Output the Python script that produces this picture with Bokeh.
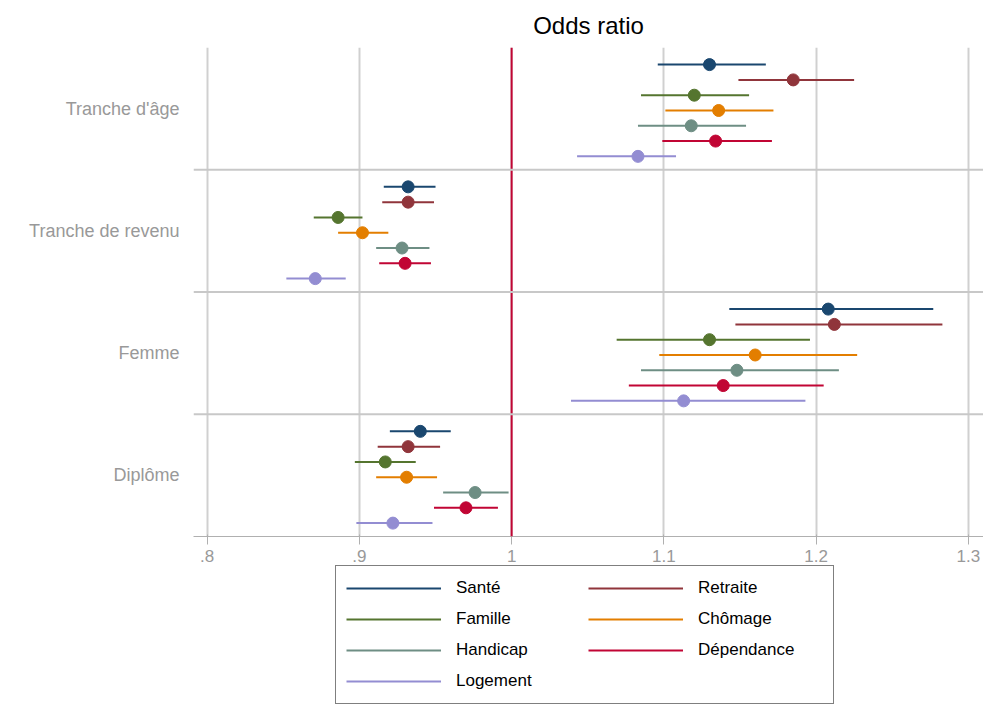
from bokeh.embed import file_html
from bokeh.resources import INLINE
from bokeh.plotting import figure
from bokeh.layouts import column
from bokeh.models import (Range1d, FixedTicker, Span, Legend, LegendItem)

groups = ["Tranche d'âge", "Tranche de revenu", "Femme", "Diplôme"]
series = ["Santé", "Retraite", "Famille", "Chômage", "Handicap", "Dépendance", "Logement"]
colors = ["#1a476f", "#90353b", "#55752f", "#e37e00", "#6e8e84", "#c10534", "#938dd2"]

# estimates per series, one value per group
est = {
    "Santé":      [1.130, 0.932, 1.208, 0.940],
    "Retraite":   [1.185, 0.932, 1.212, 0.932],
    "Famille":    [1.120, 0.886, 1.130, 0.917],
    "Chômage":    [1.136, 0.902, 1.160, 0.931],
    "Handicap":   [1.118, 0.928, 1.148, 0.976],
    "Dépendance": [1.134, 0.930, 1.139, 0.970],
    "Logement":   [1.083, 0.871, 1.113, 0.922],
}
lo = {
    "Santé":      [1.096, 0.916, 1.143, 0.920],
    "Retraite":   [1.149, 0.915, 1.147, 0.912],
    "Famille":    [1.085, 0.870, 1.069, 0.897],
    "Chômage":    [1.101, 0.886, 1.097, 0.911],
    "Handicap":   [1.083, 0.911, 1.085, 0.955],
    "Dépendance": [1.099, 0.913, 1.077, 0.949],
    "Logement":   [1.043, 0.852, 1.039, 0.898],
}
hi = {
    "Santé":      [1.167, 0.950, 1.277, 0.960],
    "Retraite":   [1.225, 0.949, 1.283, 0.953],
    "Famille":    [1.156, 0.902, 1.196, 0.937],
    "Chômage":    [1.172, 0.919, 1.227, 0.951],
    "Handicap":   [1.154, 0.946, 1.215, 0.998],
    "Dépendance": [1.171, 0.947, 1.205, 0.991],
    "Logement":   [1.108, 0.891, 1.193, 0.948],
}
x_ticks = [0.8, 0.9, 1.0, 1.1, 1.2, 1.3]
x_labels = [".8", ".9", "1", "1.1", "1.2", "1.3"]

p = figure(frame_width=790, frame_height=489, output_backend="svg", toolbar_location=None,
           x_range=Range1d(0.791, 1.31), y_range=Range1d(4, 0),
           min_border_left=193, min_border_right=0, min_border_top=13, min_border_bottom=0,
           title="Odds ratio")
p.title.align = "center"
p.title.text_font = "Arial"
p.title.text_font_size = "24px"
p.title.text_font_style = "normal"
p.title.text_color = "black"
p.title.standoff = 18
p.outline_line_color = None

# legend lives in a second, axis-less figure under the chart
leg = figure(width=983, height=150, output_backend="svg", toolbar_location=None,
             x_range=Range1d(0, 1), y_range=Range1d(0, 1),
             min_border=0, outline_line_color=None)
leg.axis.visible = False
leg.grid.visible = False

items = {}
for k, (s, c) in enumerate(zip(series, colors)):
    ys = [g + (17 + 15.2 * k) / 121.5 for g in range(len(groups))]
    p.segment(x0=lo[s], x1=hi[s], y0=ys, y1=ys, line_color=c, line_width=2)
    p.scatter(est[s], ys, size=12, color=c)
    r = leg.line(x=[-1, -1], y=[-1, -1], line_color=c, line_width=2)
    items[s] = LegendItem(label=s, renderers=[r])

p.add_layout(Span(location=1, dimension="height", line_color="#c10534", line_width=2))
for b in [1, 2, 3]:
    p.add_layout(Span(location=b, dimension="width", line_color="#c8c8c8", line_width=2))

p.ygrid.grid_line_color = None
p.xgrid.ticker = FixedTicker(ticks=x_ticks)
p.xgrid.grid_line_color = "#d0d0d0"
p.xgrid.grid_line_width = 2
p.xgrid.grid_line_alpha = 1

p.xaxis.ticker = FixedTicker(ticks=x_ticks)
p.xaxis.major_label_overrides = dict(zip(x_ticks, x_labels))
p.xaxis.axis_line_color = "#b0b0b0"
p.xaxis.major_tick_line_color = "#b0b0b0"
p.xaxis.minor_tick_line_color = None
p.xaxis.major_tick_out = 8
p.xaxis.major_label_text_color = "#999999"
p.xaxis.major_label_text_font = "Arial"
p.xaxis.major_label_text_font_size = "17px"

p.yaxis.ticker = FixedTicker(ticks=[0.5, 1.5, 2.5, 3.5])
p.yaxis.major_label_overrides = {0.5 + i: g for i, g in enumerate(groups)}
p.yaxis.axis_line_color = None
p.yaxis.major_tick_line_color = None
p.yaxis.minor_tick_line_color = None
p.yaxis.major_label_text_color = "#999999"
p.yaxis.major_label_text_font = "Arial"
p.yaxis.major_label_text_font_size = "18px"
p.yaxis.major_label_standoff = 8

order = ["Santé", "Famille", "Handicap", "Logement", "Retraite", "Chômage", "Dépendance"]
legend = Legend(items=[items[s] for s in order], nrows=4, location=(142, 10),
                glyph_width=95, glyph_height=24, label_text_font="Arial",
                label_text_font_size="17px", label_width=125, label_standoff=15,
                spacing=7, padding=10, margin=0, label_text_color="black",
                border_line_color="black", border_line_width=1.5)
leg.add_layout(legend, "center")

layout = column(p, leg, spacing=0)
open("out.html", "w").write(file_html(layout, INLINE))
